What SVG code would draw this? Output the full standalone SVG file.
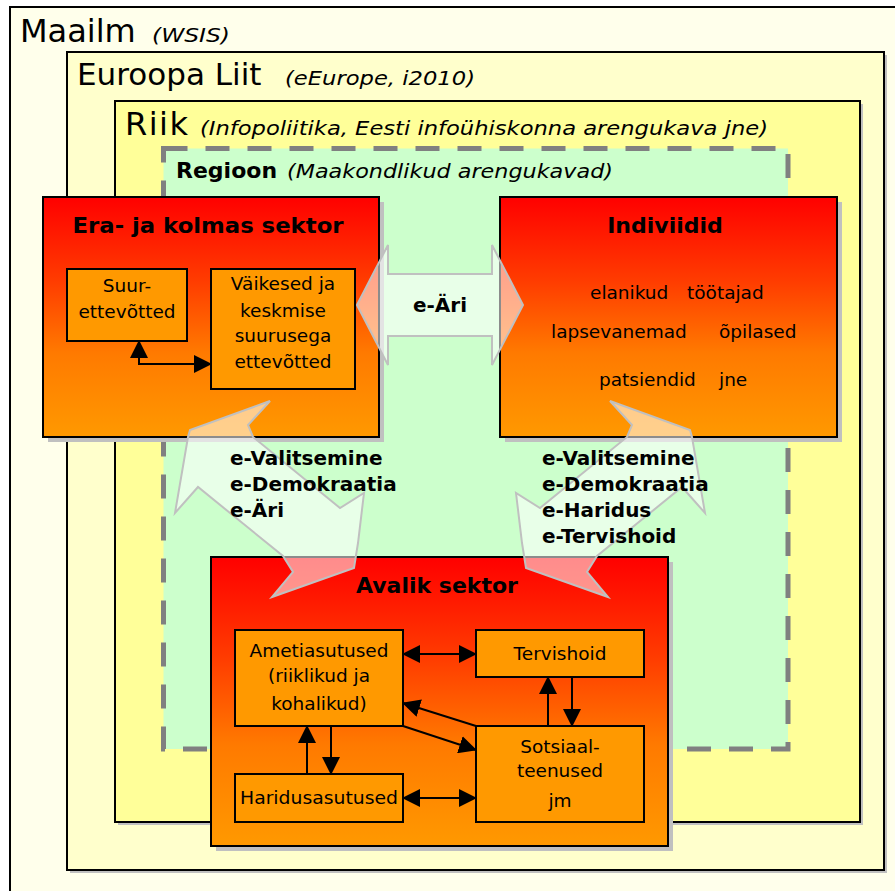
<svg xmlns="http://www.w3.org/2000/svg" width="895" height="891" viewBox="0 0 895 891">
<style>
  .frame{stroke:#000;stroke-width:2}
  .shadow{fill:#C0C0C0}
  .big{fill:url(#grad);stroke:#000;stroke-width:2}
  .inner{fill:#FF9900;stroke:#000;stroke-width:2}
  .blk{fill:#fff;fill-opacity:0.55;stroke:#C0C0C0;stroke-width:2;stroke-linejoin:miter}
  .t{font-family:"DejaVu Sans","Verdana",sans-serif;fill:#000}
  .r{font-size:18.5px}
  .b{font-weight:bold;font-size:20px}
  .h{font-weight:bold;font-size:22px}
  .i{font-style:italic;font-size:20px}
  .c{text-anchor:middle}
  .con{fill:none;stroke:#000;stroke-width:2}
</style>
<defs>
  <linearGradient id="grad" x1="0" y1="0" x2="0" y2="1">
    <stop offset="0" stop-color="#FF0000"/>
    <stop offset="0.35" stop-color="#FF3C00"/>
    <stop offset="0.65" stop-color="#FF7A00"/>
    <stop offset="1" stop-color="#FF9900"/>
  </linearGradient>
  <marker id="ah" viewBox="0 0 18 18" refX="17" refY="9" markerWidth="18" markerHeight="18" markerUnits="userSpaceOnUse" orient="auto-start-reverse">
    <path d="M0,0 L18,9 L0,18 z" fill="#000"/>
  </marker>
</defs>
<rect width="895" height="891" fill="#fff"/>

<g id="maailm">
  <rect x="10" y="7" width="895" height="900" fill="#FFFFEB" class="frame"/>
  <text class="t" x="20" y="42" font-size="32">Maailm</text>
  <text class="t i" x="152" y="42" font-size="21" textLength="78" lengthAdjust="spacingAndGlyphs">(WSIS)</text>
</g>

<g id="euroopa">
  <rect x="70" y="55" width="817" height="818" class="shadow"/>
  <rect x="67" y="52" width="817" height="818" fill="#FFFFCC" class="frame"/>
  <text class="t" x="77" y="85" font-size="31">Euroopa Liit</text>
  <text class="t i" x="285" y="85" textLength="190" lengthAdjust="spacingAndGlyphs">(eEurope, i2010)</text>
</g>

<g id="riik">
  <rect x="118" y="104" width="745" height="721" class="shadow"/>
  <rect x="115" y="101" width="745" height="721" fill="#FFFF99" class="frame"/>
  <text class="t" x="125" y="135" font-size="32" textLength="63" lengthAdjust="spacing">Riik</text>
  <text class="t i" x="200" y="135" textLength="568" lengthAdjust="spacingAndGlyphs">(Infopoliitika, Eesti infoühiskonna arengukava jne)</text>
</g>

<g id="regioon">
  <rect x="163.5" y="148.5" width="624.5" height="600.5" fill="#CCFFCC" stroke="#808080" stroke-width="5" stroke-dasharray="24,18"/>
  <text class="t h" x="176" y="178">Regioon</text>
  <text class="t i" x="287" y="178" textLength="326" lengthAdjust="spacingAndGlyphs">(Maakondlikud arengukavad)</text>
</g>

<g id="era">
  <rect x="48" y="202" width="336" height="240" class="shadow"/>
  <rect x="43" y="197" width="336" height="240" class="big"/>
  <text class="t h c" x="208" y="233" textLength="271" lengthAdjust="spacingAndGlyphs">Era- ja kolmas sektor</text>
</g>

<g id="suurettevotted">
  <rect x="67" y="269" width="120" height="72" class="inner"/>
  <text class="t r c" x="127" y="292">Suur-</text>
  <text class="t r c" x="127" y="318">ettevõtted</text>
</g>

<g id="vaikesed">
  <rect x="211" y="269" width="144" height="120" class="inner"/>
  <text class="t r c" x="283" y="290">Väikesed ja</text>
  <text class="t r c" x="283" y="317">keskmise</text>
  <text class="t r c" x="283" y="342">suurusega</text>
  <text class="t r c" x="283" y="368">ettevõtted</text>
</g>

<g id="indiviidid">
  <rect x="505" y="202" width="337" height="240" class="shadow"/>
  <rect x="500" y="197" width="337" height="240" class="big"/>
  <text class="t h c" x="665" y="233">Indiviidid</text>
  <text class="t r" x="590" y="299">elanikud</text>
  <text class="t r" x="687" y="299">töötajad</text>
  <text class="t r" x="551" y="338">lapsevanemad</text>
  <text class="t r" x="719" y="338">õpilased</text>
  <text class="t r" x="599" y="386">patsiendid</text>
  <text class="t r" x="719" y="386">jne</text>
</g>

<g id="avalik">
  <rect x="216" y="562" width="457" height="289" class="shadow"/>
  <rect x="211" y="557" width="457" height="289" class="big"/>
  <text class="t h c" x="437" y="593">Avalik sektor</text>
</g>

<g id="ametiasutused">
  <rect x="235" y="630" width="168" height="96" class="inner"/>
  <text class="t r c" x="319" y="657">Ametiasutused</text>
  <text class="t r c" x="319" y="682">(riiklikud ja</text>
  <text class="t r c" x="319" y="710">kohalikud)</text>
</g>

<g id="tervishoid">
  <rect x="476" y="630" width="168" height="47" class="inner"/>
  <text class="t r c" x="560" y="660">Tervishoid</text>
</g>

<g id="sotsiaalteenused">
  <rect x="476" y="726" width="168" height="96" class="inner"/>
  <text class="t r c" x="560" y="753">Sotsiaal-</text>
  <text class="t r c" x="560" y="777">teenused</text>
  <text class="t r c" x="560" y="807">jm</text>
</g>

<g id="haridusasutused">
  <rect x="235" y="774" width="168" height="48" class="inner"/>
  <text class="t r c" x="319" y="804" textLength="158" lengthAdjust="spacingAndGlyphs">Haridusasutused</text>
</g>

<g id="connectors">
  <polygon class="blk" points="357,305 388,245 388,274 492,274 492,245 523,305 492,365 492,336 388,336 388,365"/>
  <polygon class="blk" points="270,401 248,425 253,437 340,508 364,493 358,543 354,568 272,597 293,572 283,556 198,487 175,513 188,437 190,430"/>
  <polygon class="blk" transform="translate(880,0) scale(-1,1)" points="270,401 248,425 253,437 340,508 364,493 358,543 354,568 272,597 293,572 283,556 198,487 175,513 188,437 190,430"/>
  <text class="t b c" x="440" y="312">e-Äri</text>
  <text class="t b" x="230" y="465">e-Valitsemine</text>
  <text class="t b" x="230" y="491">e-Demokraatia</text>
  <text class="t b" x="230" y="517">e-Äri</text>
  <text class="t b" x="542" y="465">e-Valitsemine</text>
  <text class="t b" x="542" y="491">e-Demokraatia</text>
  <text class="t b" x="542" y="517">e-Haridus</text>
  <text class="t b" x="542" y="543">e-Tervishoid</text>

  <path class="con" d="M139,341 L139,364 L211,364" marker-start="url(#ah)" marker-end="url(#ah)"/>
  <path class="con" d="M403,654 L476,654" marker-start="url(#ah)" marker-end="url(#ah)"/>
  <path class="con" d="M548,726 L548,677" marker-end="url(#ah)"/>
  <path class="con" d="M572,677 L572,726" marker-end="url(#ah)"/>
  <path class="con" d="M307,774 L307,726" marker-end="url(#ah)"/>
  <path class="con" d="M331,726 L331,774" marker-end="url(#ah)"/>
  <path class="con" d="M403,798 L476,798" marker-start="url(#ah)" marker-end="url(#ah)"/>
  <path class="con" d="M476,726 L403,703" marker-end="url(#ah)"/>
  <path class="con" d="M403,726 L476,750" marker-end="url(#ah)"/>
</g>
</svg>
